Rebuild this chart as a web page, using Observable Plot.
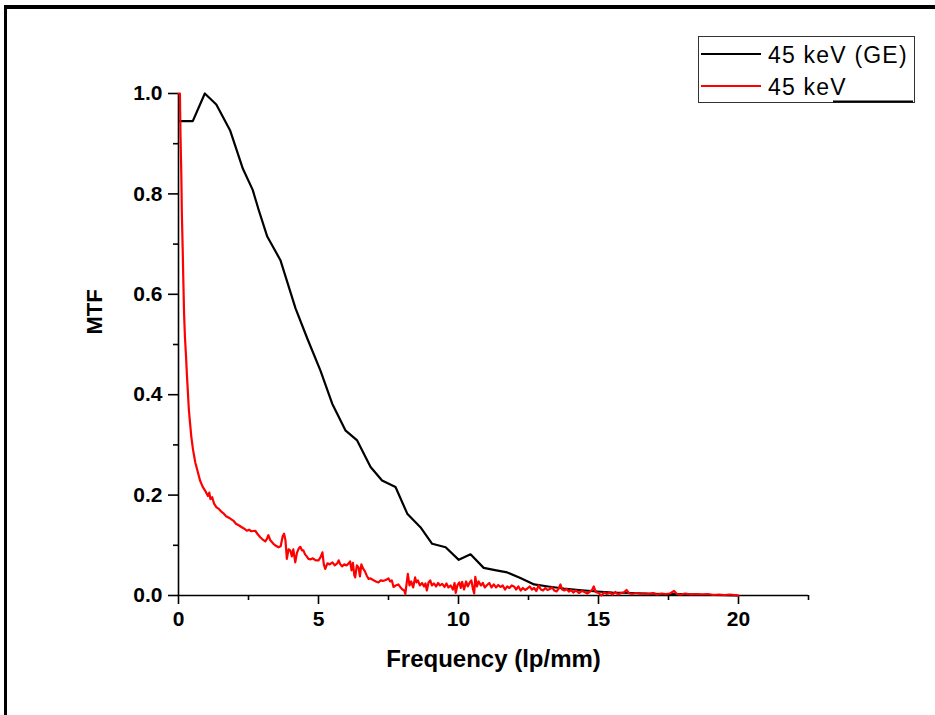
<!DOCTYPE html>
<html>
<head>
<meta charset="utf-8">
<script src="https://cdn.jsdelivr.net/npm/d3@7"></script>
<script src="https://cdn.jsdelivr.net/npm/@observablehq/plot@0.6"></script>
<style>
  html, body { margin: 0; padding: 0; background: #fff; }
  #wrap { position: relative; width: 935px; height: 715px; overflow: hidden; }
  #frame { position: absolute; left: 4px; top: 5px; right: -10px; bottom: -10px;
           border-top: 4px solid #000; border-left: 3px solid #000; pointer-events: none; }
  #legend { position: absolute; left: 698px; top: 36px; }
</style>
</head>
<body>
<div id="wrap">
  <div id="chart"></div>
  <div id="frame"></div>
  <div id="legend"></div>
</div>
<script>
// ---- Data ----
const seriesNames = ["45 keV (GE)", "45 keV"];
const seriesColors = ["#000000", "#ff0000"];

const geFreq = [0.05, 0.51, 0.94, 1.35, 1.84, 2.3, 2.65, 2.87, 3.17, 3.64, 4.18, 4.6, 5.07, 5.49, 5.96, 6.38, 6.86, 7.27, 7.75, 8.17, 8.64, 9.06, 9.54, 10.01, 10.43, 10.9, 11.35, 11.74, 12.21, 12.7, 13.2, 13.76, 14.3, 14.95, 15.5, 16.14, 16.7, 17.3, 17.9, 18.5, 19.2, 19.95];
const geMTF  = [0.945, 0.945, 1.0, 0.978, 0.927, 0.85, 0.808, 0.767, 0.715, 0.668, 0.572, 0.512, 0.448, 0.382, 0.329, 0.309, 0.256, 0.229, 0.216, 0.163, 0.136, 0.103, 0.096, 0.071, 0.082, 0.055, 0.05, 0.046, 0.035, 0.022, 0.018, 0.014, 0.011, 0.008, 0.006, 0.005, 0.004, 0.003, 0.003, 0.002, 0.001, 0.0];

const redFreq = [0.0, 0.05, 0.07, 0.1, 0.12, 0.15, 0.17, 0.2, 0.23, 0.27, 0.3, 0.33, 0.37, 0.41, 0.46, 0.52, 0.6, 0.68, 0.77, 0.86, 0.96, 1.05, 1.1, 1.14, 1.2, 1.27, 1.35, 1.45, 1.55, 1.62, 1.7, 1.8, 1.9, 1.98, 2.05, 2.15, 2.26, 2.35, 2.44, 2.52, 2.6, 2.74, 2.83, 2.92, 3.0, 3.1, 3.16, 3.21, 3.28, 3.39, 3.48, 3.57, 3.65, 3.72, 3.77, 3.82, 3.87, 3.93, 3.99, 4.05, 4.1, 4.17, 4.23, 4.29, 4.35, 4.41, 4.46, 4.52, 4.58, 4.64, 4.72, 4.8, 4.9, 5.0, 5.08, 5.14, 5.19, 5.24, 5.32, 5.4, 5.5, 5.58, 5.67, 5.72, 5.77, 5.84, 5.92, 6.0, 6.08, 6.13, 6.18, 6.23, 6.28, 6.31, 6.37, 6.43, 6.48, 6.53, 6.6, 6.66, 6.72, 6.79, 6.86, 6.95, 7.05, 7.14, 7.22, 7.3, 7.4, 7.5, 7.56, 7.62, 7.68, 7.76, 7.85, 7.93, 8.0, 8.06, 8.1, 8.15, 8.19, 8.25, 8.31, 8.38, 8.45, 8.5, 8.55, 8.62, 8.7, 8.77, 8.82, 8.87, 8.93, 8.99, 9.05, 9.12, 9.2, 9.27, 9.34, 9.42, 9.5, 9.57, 9.64, 9.72, 9.8, 9.86, 9.9, 9.96, 10.03, 10.08, 10.13, 10.2, 10.27, 10.33, 10.4, 10.46, 10.52, 10.56, 10.6, 10.66, 10.72, 10.8, 10.87, 10.94, 11.02, 11.1, 11.18, 11.26, 11.34, 11.42, 11.5, 11.58, 11.66, 11.74, 11.82, 11.9, 11.98, 12.06, 12.14, 12.22, 12.3, 12.38, 12.46, 12.54, 12.62, 12.7, 12.78, 12.86, 12.94, 13.02, 13.1, 13.18, 13.26, 13.34, 13.42, 13.5, 13.58, 13.64, 13.7, 13.78, 13.86, 13.94, 14.02, 14.1, 14.2, 14.3, 14.4, 14.5, 14.6, 14.7, 14.78, 14.83, 14.9, 15.0, 15.1, 15.2, 15.3, 15.4, 15.5, 15.6, 15.7, 15.8, 15.9, 16.0, 16.1, 16.2, 16.35, 16.5, 16.65, 16.8, 16.95, 17.1, 17.25, 17.4, 17.55, 17.7, 17.8, 17.95, 18.1, 18.3, 18.5, 18.7, 18.9, 19.1, 19.3, 19.5, 19.7, 19.85, 20.0];
const redMTF  = [1.0, 1.0, 0.92, 0.84, 0.76, 0.69, 0.634, 0.56, 0.515, 0.475, 0.44, 0.41, 0.37, 0.345, 0.315, 0.29, 0.265, 0.248, 0.229, 0.217, 0.208, 0.198, 0.205, 0.192, 0.196, 0.183, 0.176, 0.172, 0.166, 0.163, 0.158, 0.155, 0.151, 0.148, 0.143, 0.14, 0.136, 0.133, 0.129, 0.131, 0.128, 0.129, 0.122, 0.116, 0.112, 0.108, 0.113, 0.12, 0.11, 0.103, 0.099, 0.096, 0.098, 0.118, 0.123, 0.11, 0.073, 0.092, 0.09, 0.078, 0.092, 0.066, 0.085, 0.093, 0.097, 0.09, 0.09, 0.082, 0.078, 0.073, 0.072, 0.074, 0.07, 0.07, 0.077, 0.086, 0.062, 0.053, 0.064, 0.062, 0.066, 0.06, 0.064, 0.07, 0.063, 0.058, 0.062, 0.06, 0.064, 0.068, 0.05, 0.065, 0.04, 0.036, 0.06, 0.056, 0.038, 0.062, 0.053, 0.048, 0.04, 0.033, 0.034, 0.031, 0.028, 0.026, 0.03, 0.029, 0.031, 0.034, 0.028, 0.03, 0.017, 0.02, 0.022, 0.016, 0.012, 0.01, 0.003, 0.025, 0.043, 0.02, 0.028, 0.016, 0.036, 0.026, 0.03, 0.02, 0.025, 0.018, 0.024, 0.01, 0.026, 0.03, 0.02, 0.024, 0.018, 0.025, 0.02, 0.023, 0.017, 0.024, 0.016, 0.02, 0.012, 0.025, 0.005, 0.02, 0.026, 0.015, 0.027, 0.012, 0.028, 0.018, 0.026, 0.03, 0.012, 0.004, 0.037, 0.018, 0.028, 0.02, 0.025, 0.016, 0.021, 0.025, 0.016, 0.022, 0.016, 0.021, 0.017, 0.02, 0.012, 0.018, 0.015, 0.02, 0.018, 0.012, 0.018, 0.01, 0.015, 0.011, 0.014, 0.018, 0.012, 0.015, 0.009, 0.02, 0.012, 0.01, 0.015, 0.011, 0.013, 0.016, 0.01, 0.008, 0.014, 0.022, 0.012, 0.01, 0.013, 0.008, 0.011, 0.006, 0.01, 0.005, 0.009, 0.007, 0.004, 0.008, 0.012, 0.018, 0.007, 0.005, 0.0, 0.006, 0.003, 0.006, 0.002, 0.007, 0.002, 0.005, 0.006, 0.011, 0.004, 0.003, 0.005, 0.003, 0.004, 0.003, 0.005, 0.002, 0.004, 0.003, 0.004, 0.009, 0.003, 0.002, 0.004, 0.002, 0.003, 0.002, 0.003, 0.001, 0.002, 0.001, 0.002, 0.001, 0.0];

const xMajorTicks = [0, 5, 10, 15, 20];
const xMinorTicks = [2.5, 7.5, 12.5, 17.5, 22.5];
const yMajorTicks = [0, 0.2, 0.4, 0.6, 0.8, 1.0];
const yMinorTicks = [0.1, 0.3, 0.5, 0.7, 0.9];
const xLabel = "Frequency (lp/mm)";
const yLabel = "MTF";

// ---- Build tables ----
const ge = geFreq.map((f, i) => ({f, m: geMTF[i]}));
const red = redFreq.map((f, i) => ({f, m: redMTF[i]}));

const FONT = "'Liberation Sans', Arial, Helvetica, sans-serif";

const chart = Plot.plot({
  width: 935,
  height: 715,
  marginLeft: 178,
  marginRight: 127,
  marginTop: 93,
  marginBottom: 120,
  x: {domain: [0, 22.5]},
  y: {domain: [0, 1]},
  style: {fontFamily: FONT, fontWeight: "bold", fontSize: "21px", color: "#000", background: "#fff", overflow: "visible"},
  marks: [
    Plot.ruleY([0], {stroke: "#000", strokeWidth: 1.6}),
    Plot.ruleX([0], {stroke: "#000", strokeWidth: 1.6}),
    Plot.axisX(xMajorTicks, {tickSize: 9, tickPadding: 7, strokeWidth: 1.6, tickFormat: d => String(d), label: null}),
    Plot.axisX(xMinorTicks, {tickSize: 5, strokeWidth: 1.6, tickFormat: () => "", label: null}),
    Plot.axisY(yMajorTicks, {tickSize: 10, tickPadding: 6, strokeWidth: 1.6, tickFormat: d3.format(".1f"), label: null}),
    Plot.axisY(yMinorTicks, {tickSize: 5, strokeWidth: 1.6, tickFormat: () => "", label: null}),
    Plot.lineY(ge, {x: "f", y: "m", stroke: seriesColors[0], strokeWidth: 2.2}),
    Plot.lineY(red, {x: "f", y: "m", stroke: seriesColors[1], strokeWidth: 2.2}),
    Plot.text([xLabel], {frameAnchor: "bottom", dy: 71, fontSize: 24, fontWeight: "bold", fill: "#000"}),
    Plot.text([yLabel], {frameAnchor: "left", rotate: -90, dx: -84, dy: -10, fontSize: 22, fontWeight: "bold", fill: "#000"})
  ]
});
document.getElementById("chart").appendChild(chart);

// ---- Legend ----
const lw = 217, lh = 67;
const leg = d3.select("#legend").append("svg")
  .attr("width", lw).attr("height", lh)
  .style("font-family", FONT);
leg.append("rect").attr("x", 0.5).attr("y", 0.5).attr("width", lw - 1).attr("height", lh - 1)
  .attr("fill", "#fff").attr("stroke", "#333").attr("stroke-width", 1);
leg.append("line").attr("x1", 135).attr("x2", 215).attr("y1", lh - 1.5).attr("y2", lh - 1.5)
  .attr("stroke", "#000").attr("stroke-width", 2);
seriesNames.forEach((name, i) => {
  const cy = i === 0 ? 18 : 50;
  leg.append("line").attr("x1", 3).attr("x2", 63).attr("y1", cy).attr("y2", cy)
    .attr("stroke", seriesColors[i]).attr("stroke-width", 2.2);
  leg.append("text").attr("x", 70).attr("y", cy + 9)
    .attr("font-size", 23).attr("letter-spacing", "1.2px").attr("fill", "#000").text(name);
});
</script>
</body>
</html>
